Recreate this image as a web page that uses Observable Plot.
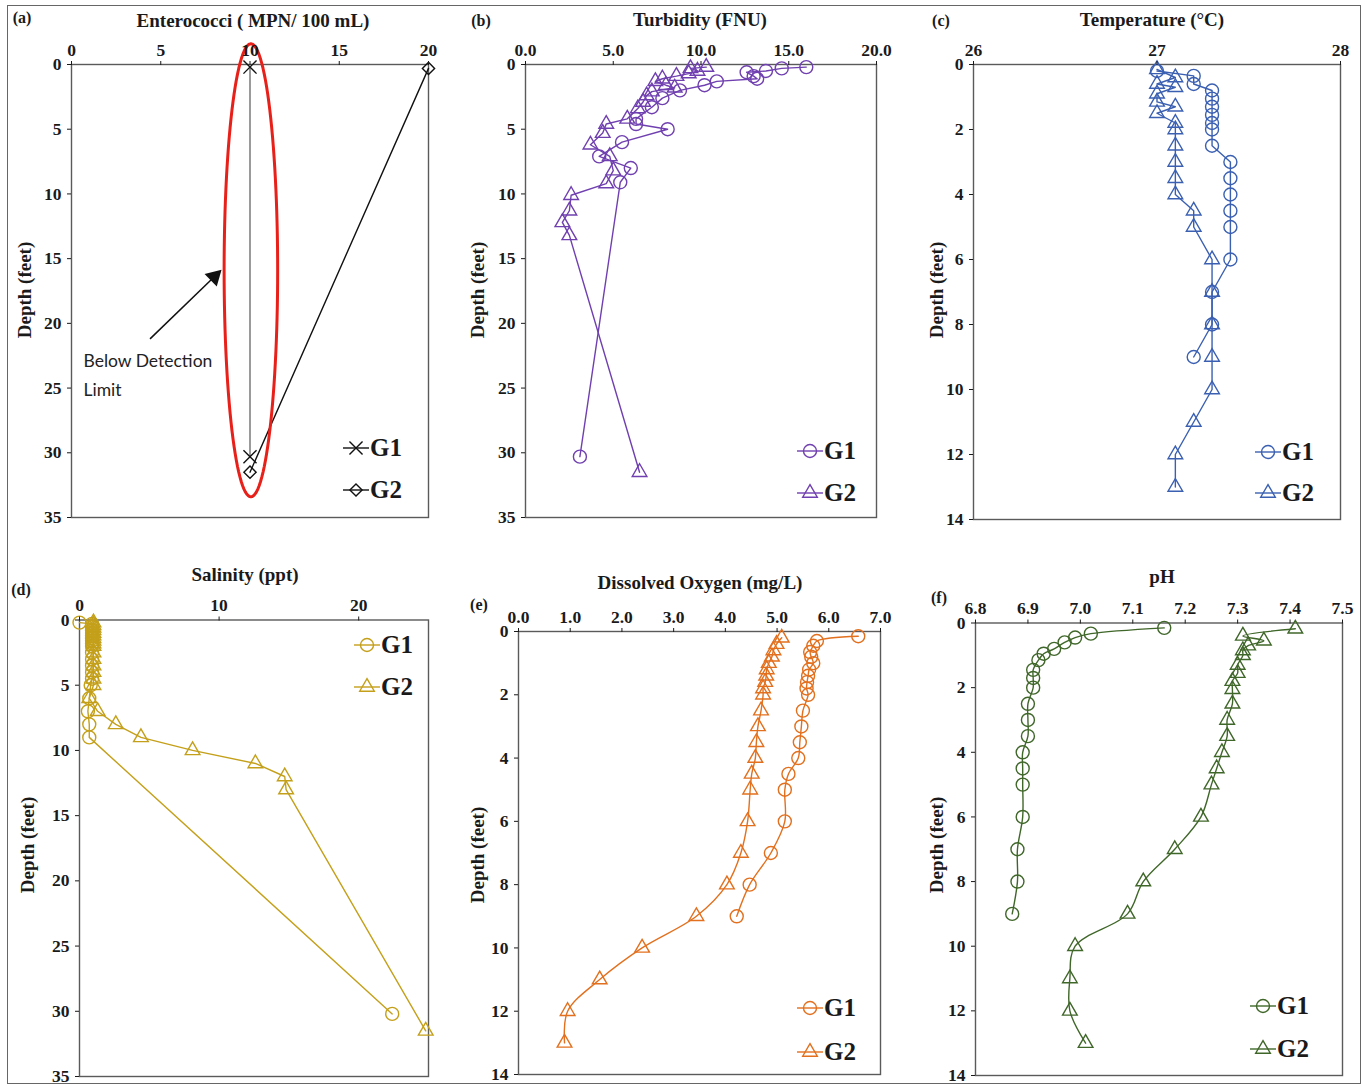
<!DOCTYPE html>
<html><head><meta charset="utf-8">
<script src="https://cdn.jsdelivr.net/npm/d3@7"></script>
<script src="https://cdn.jsdelivr.net/npm/@observablehq/plot@0.6"></script>
<style>
body{margin:0;background:#fff;}
#fig{position:relative;width:1370px;height:1087px;overflow:hidden;font-family:"Liberation Serif","Times New Roman",serif;background:#fff;}
.panel{position:absolute;}
.t{position:absolute;font-weight:bold;font-size:19px;color:#1a1a1a;white-space:nowrap;transform:translate(-50%,-50%);}
.yl{transform:translate(-50%,-50%) rotate(-90deg);}
.lg{position:absolute;display:flex;align-items:center;font-weight:bold;font-size:25px;color:#1a1a1a;transform:translateY(-50%);white-space:nowrap;}
.lg svg{overflow:visible;}
#border{position:absolute;left:7px;top:5px;width:1354px;height:1079px;border:1px solid #666;box-sizing:border-box;}
</style></head><body><div id="fig"><div id="border"></div></div><script>
// ---------------- DATA ----------------
// (a) Enterococci (MPN/100 mL)
const entDepthG1 = [0.2, 30.3];
const entG1 = [10, 10];
const entDepthG2 = [0.3, 31.5];
const entG2 = [20, 10];
const detectionEllipse = [{cx: 10.05, cy: 15.9, rx: 1.5, ry: 17.5}];
const annotationArrow = [{x1: 4.4, y1: 21.2, x2: 8.0, y2: 16.4}];
const annotationText = [{x: 0.67, y: 23.8, text: "Below Detection\nLimit"}];

// (b) Turbidity (FNU)
const turbDepthG1 = [0.2,0.3,0.5,0.6,0.9,1.1,1.3,1.6,2.0,2.6,3.3,4.2,4.6,5.0,6.0,7.1,8.0,9.1,30.3];
const turbG1 = [16.0,14.6,13.7,12.6,13.0,13.2,10.9,10.2,8.8,7.8,7.2,6.3,6.3,8.1,5.5,4.2,6.0,5.4,3.1];
const turbDepthG2 = [0.2,0.3,0.5,0.7,0.9,1.1,1.3,1.6,1.8,2.1,2.4,2.9,3.4,4.2,4.6,5.3,6.2,7.1,8.2,9.2,10.1,11.3,12.2,13.2,31.5];
const turbG2 = [10.3,9.4,9.8,9.3,8.6,7.8,7.4,8.0,8.5,7.2,6.9,6.7,6.4,5.8,4.6,4.4,3.7,4.8,5.0,4.6,2.6,2.5,2.1,2.5,6.5];

// (c) Temperature (°C)
const tempDepthG1 = [0.2,0.35,0.6,0.8,1.05,1.3,1.55,1.8,2.0,2.5,3.0,3.5,4.0,4.5,5.0,6.0,7.0,8.0,9.0];
const tempG1 = [27.0,27.2,27.2,27.3,27.3,27.3,27.3,27.3,27.3,27.3,27.4,27.4,27.4,27.4,27.4,27.4,27.3,27.3,27.2];
const tempDepthG2 = [0.15,0.4,0.6,0.7,0.9,1.15,1.3,1.5,1.8,2.0,2.5,3.0,3.5,4.0,4.5,5.0,6.0,7.0,8.0,9.0,10.0,11.0,12.0,13.0];
const tempG2 = [27.0,27.1,27.0,27.1,27.0,27.0,27.1,27.0,27.1,27.1,27.1,27.1,27.1,27.1,27.2,27.2,27.3,27.3,27.3,27.3,27.3,27.2,27.1,27.1];

// (d) Salinity (ppt)
const salDepthG1 = [0.2,0.3,0.5,0.8,1.0,1.2,1.4,1.6,1.8,2.0,2.5,3.0,3.5,4.0,4.5,5.0,6.0,7.0,8.0,9.0,30.2];
const salG1 = [0.0,0.9,0.9,0.9,0.9,0.9,0.9,0.9,0.9,0.9,0.9,0.9,0.9,0.9,0.9,0.8,0.7,0.6,0.7,0.7,22.4];
const salDepthG2 = [0.2,0.4,0.6,0.8,1.0,1.2,1.4,1.6,1.8,2.0,2.5,3.0,3.5,4.0,4.5,5.0,6.0,7.0,8.0,9.0,10.0,11.0,12.0,13.0,31.5];
const salG2 = [1.0,1.0,1.0,1.0,1.0,1.0,1.0,1.0,1.0,1.0,1.0,1.0,1.0,1.0,1.0,1.0,0.7,1.3,2.6,4.4,8.1,12.6,14.7,14.8,24.8];

// (e) Dissolved Oxygen (mg/L)
const doDepthG1 = [0.15,0.3,0.45,0.65,0.8,1.0,1.2,1.4,1.6,1.8,2.0,2.5,3.0,3.5,4.0,4.5,5.0,6.0,7.0,8.0,9.0];
const doG1 = [6.57,5.77,5.70,5.64,5.66,5.70,5.62,5.60,5.58,5.57,5.60,5.50,5.47,5.44,5.41,5.22,5.15,5.15,4.88,4.47,4.22];
const doDepthG2 = [0.2,0.4,0.6,0.8,1.0,1.2,1.4,1.6,1.8,2.0,2.5,3.0,3.5,4.0,4.5,5.0,6.0,7.0,8.0,9.0,10.0,11.0,12.0,13.0];
const doG2 = [5.09,4.99,4.93,4.90,4.84,4.80,4.79,4.77,4.73,4.73,4.69,4.63,4.60,4.58,4.51,4.48,4.43,4.30,4.03,3.44,2.39,1.57,0.95,0.89];

// (f) pH
const phDepthG1 = [0.15,0.33,0.45,0.6,0.8,0.95,1.15,1.45,1.7,2.0,2.5,3.0,3.5,4.0,4.5,5.0,6.0,7.0,8.0,9.0];
const phG1 = [7.16,7.02,6.99,6.97,6.95,6.93,6.92,6.91,6.91,6.91,6.90,6.90,6.90,6.89,6.89,6.89,6.89,6.88,6.88,6.87];
const phDepthG2 = [0.18,0.4,0.55,0.7,0.85,1.0,1.3,1.55,1.8,2.05,2.5,3.0,3.5,4.0,4.5,5.0,6.0,7.0,8.0,9.0,10.0,11.0,12.0,13.0];
const phG2 = [7.41,7.31,7.35,7.32,7.31,7.31,7.30,7.30,7.29,7.29,7.29,7.28,7.28,7.27,7.26,7.25,7.23,7.18,7.12,7.09,6.99,6.98,6.98,7.01];

// tick labels
const ticksA = [0,5,10,15,20];
const ticksB = [0,5,10,15,20];
const ticksC = [26,27,28];
const ticksD = [0,10,20];
const ticksE = [0,1,2,3,4,5,6,7];
const ticksF = [6.8,6.9,7.0,7.1,7.2,7.3,7.4,7.5];
const depthTicks35 = [0,5,10,15,20,25,30,35];
const depthTicks14 = [0,2,4,6,8,10,12,14];
const seriesNames = ["G1","G2"];

// ---------------- DRAWING ----------------
const fig = document.getElementById("fig");
const FONT = '"Liberation Serif","Times New Roman",serif';
const symbolMap = {circle: d3.symbolCircle, triangle2: d3.symbolTriangle2, times: d3.symbolTimes, diamond2: d3.symbolDiamond2};

function zip(depth, vals){ return depth.map((d,i)=>({depth:d, v:vals[i]})); }

function addText(txt, x, y, extraCls){
  const el = document.createElement("div");
  el.className = "t" + (extraCls ? " " + extraCls : "");
  el.textContent = txt;
  el.style.left = x + "px"; el.style.top = y + "px";
  fig.appendChild(el);
  return el;
}

function addLegend(items, sx, ys){
  items.forEach((it, i) => {
    const el = document.createElement("div");
    el.className = "lg";
    el.style.left = (sx - 13) + "px";
    el.style.top = ys[i] + "px";
    const svg = d3.create("svg").attr("width", 26).attr("height", 20);
    svg.append("line").attr("x1",0).attr("x2",26).attr("y1",10).attr("y2",10)
      .attr("stroke", it.lineColor || it.color).attr("stroke-width",1.4);
    svg.append("path").attr("transform","translate(13,10)")
      .attr("d", d3.symbol(symbolMap[it.symbol], it.r*it.r*Math.PI)())
      .attr("fill","none").attr("stroke", it.color).attr("stroke-width",1.4);
    el.appendChild(svg.node());
    const sp = document.createElement("span");
    sp.textContent = it.label;
    sp.style.marginLeft = "1px";
    el.appendChild(sp);
    fig.appendChild(el);
  });
}

function panel(cfg){
  const marks = [Plot.frame({stroke:"#5a5a5a", strokeWidth:1.4})];
  if (cfg.before) marks.push(...cfg.before);
  for (const s of cfg.series){
    const data = zip(s.depth, s.values);
    marks.push(Plot.line(data, {x:"v", y:"depth", stroke: s.lineColor || s.color, strokeWidth:1.4, curve: cfg.curve || "linear"}));
    marks.push(Plot.dot(data, {x:"v", y:"depth", symbol: s.symbol, r: s.r, stroke: s.color, fill:"none", strokeWidth:1.4}));
  }
  if (cfg.after) marks.push(...cfg.after);
  marks.push(Plot.axisX({anchor:"top", ticks: cfg.xTicks, tickFormat: cfg.xFormat, tickSize:4, tickPadding:5, label:null, fontSize:17.5, fontWeight:"bold"}));
  marks.push(Plot.axisY({anchor:"left", ticks: cfg.yTicks, tickSize:4, tickPadding:6, label:null, fontSize:17.5, fontWeight:"bold"}));
  const svg = Plot.plot({
    width: cfg.width, height: cfg.height,
    marginLeft: cfg.mL, marginRight: cfg.mR, marginTop: cfg.mT, marginBottom: cfg.mB,
    x: {domain: cfg.xDomain},
    y: {domain: cfg.yDomain, reverse: true},
    style: {fontFamily: FONT, fontSize: "17px", fontWeight: "bold", color: "#1a1a1a", background: "transparent", overflow: "visible"},
    marks
  });
  const div = document.createElement("div");
  div.className = "panel";
  div.style.left = cfg.left + "px"; div.style.top = cfg.top + "px";
  div.appendChild(svg);
  fig.appendChild(div);
}

// Colors
const cA = "#111111", cB = "#7040b0", cC = "#3b60b2", cD = "#c4a01a", cE = "#e2701e", cF = "#40672a";

// (a) annotation marks
const ellPts = [];
detectionEllipse.forEach(e => {
  for (let k = 0; k <= 120; k++){
    const t = k / 120 * 2 * Math.PI;
    ellPts.push({x: e.cx + e.rx * Math.cos(t), y: e.cy + e.ry * Math.sin(t)});
  }
});
const aCfg = {left:0, top:0, width:445, height:530, mL:71, mR:17, mT:64, mB:13};
const pxX = (aCfg.width - aCfg.mL - aCfg.mR) / 20, pxY = (aCfg.height - aCfg.mT - aCfg.mB) / 35;
const arrowAngle = annotationArrow.map(a => Math.atan2((a.x2-a.x1)*pxX, (a.y1-a.y2)*pxY) * 180 / Math.PI)[0];

panel({...aCfg,
  xDomain:[0,20], xTicks: ticksA, xFormat: d3.format("d"),
  yDomain:[0,35], yTicks: depthTicks35,
  series:[
    {depth: entDepthG1, values: entG1, color: cA, lineColor:"#707070", symbol:"times", r:6},
    {depth: entDepthG2, values: entG2, color: cA, symbol:"diamond2", r:5.5}
  ],
  after:[
    Plot.line(ellPts, {x:"x", y:"y", stroke:"#e8201a", strokeWidth:3, curve:"linear-closed"}),
    Plot.link(annotationArrow, {x1:"x1", y1:"y1", x2:"x2", y2:"y2", stroke:"#111", strokeWidth:1.5}),
    Plot.dot(annotationArrow, {x:"x2", y:"y2", symbol:"triangle", r:6.5, fill:"#111", rotate: arrowAngle}),
    Plot.text(annotationText, {x:"x", y:"y", text:"text", textAnchor:"start", lineAnchor:"middle", lineHeight:1.65, fontFamily:"Lato, 'Open Sans', sans-serif", fontWeight:"normal", fontSize:17.5, fill:"#222"})
  ]
});

panel({left:460, top:0, width:445, height:530, mL:65, mR:29, mT:64, mB:13,
  xDomain:[0,20], xTicks: ticksB, xFormat: d3.format(".1f"),
  yDomain:[0,35], yTicks: depthTicks35,
  series:[
    {depth: turbDepthG1, values: turbG1, color: cB, symbol:"circle", r:6.5},
    {depth: turbDepthG2, values: turbG2, color: cB, symbol:"triangle2", r:7}
  ]
});

panel({left:910, top:0, width:450, height:530, mL:63, mR:20, mT:64, mB:11,
  xDomain:[26,28], xTicks: ticksC, xFormat: d3.format("d"),
  yDomain:[0,14], yTicks: depthTicks14,
  series:[
    {depth: tempDepthG1, values: tempG1, color: cC, symbol:"circle", r:6.5},
    {depth: tempDepthG2, values: tempG2, color: cC, symbol:"triangle2", r:7}
  ]
});

panel({left:0, top:540, width:445, height:547, mL:79, mR:17, mT:79.5, mB:11,
  xDomain:[0,25], xTicks: ticksD, xFormat: d3.format("d"),
  yDomain:[0,35], yTicks: depthTicks35,
  series:[
    {depth: salDepthG1, values: salG1, color: cD, symbol:"circle", r:6.5},
    {depth: salDepthG2, values: salG2, color: cD, symbol:"triangle2", r:7}
  ]
});

panel({left:460, top:540, width:445, height:547, mL:58, mR:25, mT:91, mB:13,
  xDomain:[0,7], xTicks: ticksE, xFormat: d3.format(".1f"),
  yDomain:[0,14], yTicks: depthTicks14, curve:"catmull-rom",
  series:[
    {depth: doDepthG1, values: doG1, color: cE, symbol:"circle", r:6.5},
    {depth: doDepthG2, values: doG2, color: cE, symbol:"triangle2", r:7}
  ]
});

panel({left:910, top:540, width:450, height:547, mL:65, mR:18, mT:82.5, mB:12,
  xDomain:[6.8,7.5], xTicks: ticksF, xFormat: d3.format(".1f"),
  yDomain:[0,14], yTicks: depthTicks14, curve:"catmull-rom",
  series:[
    {depth: phDepthG1, values: phG1, color: cF, symbol:"circle", r:6.5},
    {depth: phDepthG2, values: phG2, color: cF, symbol:"triangle2", r:7}
  ]
});

// Titles, panel letters, y labels
addText("Enterococci ( MPN/ 100 mL)", 253, 21);
addText("Turbidity (FNU)", 700, 20);
addText("Temperature (°C)", 1152, 20);
addText("Salinity (ppt)", 245, 575);
addText("Dissolved Oxygen (mg/L)", 700, 583);
addText("pH", 1162, 577);
[["(a)",22,18],["(b)",481,21],["(c)",941,21],["(d)",21,590],["(e)",479,605],["(f)",939,598]]
  .forEach(([t,x,y]) => { const el = addText(t,x,y); el.style.fontSize = "16px"; });
[[25,290],[478,290],[937,290],[28,845],[478,855],[937,845]].forEach(([x,y]) => addText("Depth (feet)", x, y, "yl"));

// Legends
addLegend([{label:seriesNames[0], color:cA, lineColor:"#111", symbol:"times", r:6},{label:seriesNames[1], color:cA, symbol:"diamond2", r:5.5}], 356, [448,490]);
addLegend([{label:seriesNames[0], color:cB, symbol:"circle", r:6.5},{label:seriesNames[1], color:cB, symbol:"triangle2", r:7}], 810, [451,493]);
addLegend([{label:seriesNames[0], color:cC, symbol:"circle", r:6.5},{label:seriesNames[1], color:cC, symbol:"triangle2", r:7}], 1268, [452,493]);
addLegend([{label:seriesNames[0], color:cD, symbol:"circle", r:6.5},{label:seriesNames[1], color:cD, symbol:"triangle2", r:7}], 367, [645,687]);
addLegend([{label:seriesNames[0], color:cE, symbol:"circle", r:6.5},{label:seriesNames[1], color:cE, symbol:"triangle2", r:7}], 810, [1008,1052]);
addLegend([{label:seriesNames[0], color:cF, symbol:"circle", r:6.5},{label:seriesNames[1], color:cF, symbol:"triangle2", r:7}], 1263, [1006,1049]);
</script></body></html>
